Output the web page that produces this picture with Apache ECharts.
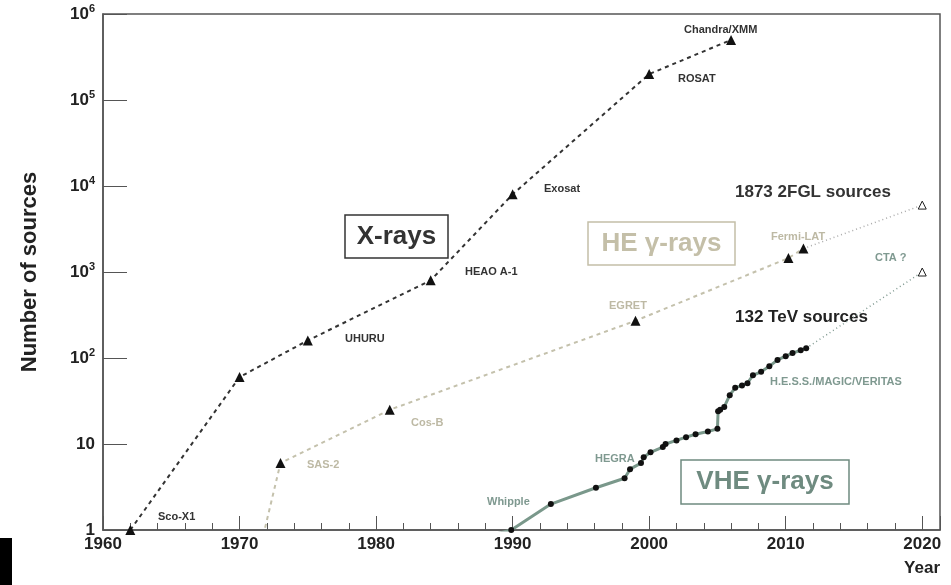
<!DOCTYPE html>
<html>
<head>
<meta charset="utf-8">
<script src="https://cdn.jsdelivr.net/npm/echarts@6/dist/echarts.min.js"></script>
<style>html,body{margin:0;background:#fff}#chart{width:951px;height:585px}</style>
</head>
<body>
<div id="chart"></div>
<script>
// X-ray catalogues
const xrayYears = [1962, 1970, 1975, 1984, 1990, 2000, 2006];
const xrayCounts = [1, 60, 160, 800, 8000, 200000, 500000];
// HE gamma-ray catalogues (first point is where the line enters from below)
const heYears = [1971.6, 1973, 1981, 1999, 2010.2, 2011.3];
const heCounts = [0.7, 6, 25, 271, 1451, 1873];
const heFutureYears = [2011.3, 2020];
const heFutureCounts = [1873, 6000];
// VHE gamma-ray (TeV) source count
const vheYears = [1988.2, 1989.9, 1992.8, 1996.1, 1998.2, 1998.6, 1999.4, 1999.6, 2000.1, 2001, 2001.2,
  2002, 2002.7, 2003.4, 2004.3, 2005, 2005.05, 2005.2, 2005.5, 2005.9, 2006.3, 2006.8, 2007.2, 2007.6,
  2008.2, 2008.8, 2009.4, 2010, 2010.5, 2011.1, 2011.5];
const vheCounts = [0.85, 1, 2, 3.1, 4, 5.1, 6, 7, 8, 9.2, 10,
  11, 12, 13, 14, 15, 24, 25, 27, 37, 45, 48, 51, 63,
  69, 80, 95, 105, 114, 123, 130];
const ctaYears = [2011.5, 2020];
const ctaCounts = [130, 1000];
const yTickLabels = {1: '1', 10: '10', 100: '10{s|2}', 1000: '10{s|3}', 10000: '10{s|4}', 100000: '10{s|5}', 1000000: '10{s|6}'};

const pairs = (xs, ys) => xs.map((x, i) => [x, ys[i]]);
const chart = echarts.init(document.getElementById('chart'));
const font = 'Liberation Sans, Arial, sans-serif';
const txt = (x, y, s, color, size) => ({
  type: 'text', x: x, y: y,
  style: {text: s, fill: color, font: 'bold ' + size + 'px ' + font}
});
const box = (x, y, w, h, s, color, size) => [
  {type: 'rect', shape: {x: x, y: y, width: w, height: h}, style: {fill: '#fff', stroke: color, lineWidth: 1.5}, z: 10},
  {type: 'text', x: x + w / 2, y: y + h / 2, z: 11,
    style: {text: s, fill: color, font: 'bold ' + size + 'px ' + font, align: 'center', verticalAlign: 'middle'}}
];

chart.setOption({
  animation: false,
  grid: {left: 103, right: 11, top: 14, bottom: 55, show: true, borderColor: '#555', borderWidth: 1.5},
  xAxis: {
    type: 'value', min: 1960, max: 2021.3, interval: 10,
    axisLine: {lineStyle: {color: '#555', width: 1.5}},
    axisTick: {inside: true, length: 14, lineStyle: {color: '#555'}},
    minorTick: {show: true, splitNumber: 5, length: 7, lineStyle: {color: '#555'}},
    splitLine: {show: false},
    axisLabel: {color: '#222', fontSize: 17, fontWeight: 'bold', fontFamily: font, margin: 6, showMaxLabel: false,
      formatter: v => String(v)},
    name: 'Year', nameLocation: 'end', nameGap: 0,
    nameTextStyle: {color: '#222', fontSize: 17, fontWeight: 'bold', fontFamily: font, align: 'right', verticalAlign: 'top', padding: [30, 0, 0, 0]}
  },
  yAxis: {
    type: 'log', min: 1, max: 1000000, logBase: 10,
    axisLine: {lineStyle: {color: '#555', width: 1.5}},
    axisTick: {inside: true, length: 24, lineStyle: {color: '#555'}},
    splitLine: {show: false},
    axisLabel: {
      color: '#222', fontSize: 17, fontWeight: 'bold', fontFamily: font, margin: 8,
      formatter: v => yTickLabels[Math.round(v)] || '',
      rich: {s: {fontSize: 11, fontWeight: 'bold', verticalAlign: 'top', padding: [0, 0, 10, 0]}}
    },
    name: 'Number of sources', nameLocation: 'middle', nameGap: 62, nameRotate: 90,
    nameTextStyle: {color: '#222', fontSize: 22, fontWeight: 'bold', fontFamily: font}
  },
  series: [
    {type: 'line', data: pairs(xrayYears, xrayCounts), symbol: 'triangle', symbolSize: 10,
      itemStyle: {color: '#111'}, lineStyle: {color: '#333', type: [4, 4], width: 2}},
    {type: 'line', data: pairs(heYears, heCounts), symbol: 'triangle', clip: true,
      itemStyle: {color: '#111'}, lineStyle: {color: '#c4c1ac', type: [4, 4], width: 2},
      symbolSize: (v, p) => p.dataIndex === 0 ? 0 : 10},
    {type: 'line', data: pairs(heFutureYears, heFutureCounts), symbol: 'triangle', clip: true,
      symbolSize: (v, p) => p.dataIndex === 0 ? 0 : 8,
      itemStyle: {color: '#fff', borderColor: '#222', borderWidth: 1}, lineStyle: {color: '#aaa', type: [1, 3], width: 1.5}},
    {type: 'line', data: pairs(ctaYears, ctaCounts), symbol: 'triangle', clip: true,
      symbolSize: (v, p) => p.dataIndex === 0 ? 0 : 8,
      itemStyle: {color: '#fff', borderColor: '#222', borderWidth: 1}, lineStyle: {color: '#7f9990', type: [1, 3], width: 1.5}},
    {type: 'line', data: pairs(vheYears, vheCounts), symbol: 'circle', clip: true, z: 5,
      symbolSize: (v, p) => p.dataIndex === 0 ? 0 : 6,
      itemStyle: {color: '#111'}, lineStyle: {color: '#7a988b', width: 3}}
  ],
  graphic: [
    {type: 'rect', shape: {x: 0, y: 538, width: 12, height: 47}, style: {fill: '#000'}},
    ...box(345, 215, 103, 43, 'X-rays', '#333', 26),
    ...box(588, 222, 147, 43, 'HE \u03b3-rays', '#c4bfa8', 26),
    ...box(681, 460, 168, 44, 'VHE \u03b3-rays', '#6f8b80', 26),
    txt(735, 184, '1873 2FGL sources', '#333', 17),
    txt(735, 309, '132 TeV sources', '#222', 17),
    txt(158, 511, 'Sco-X1', '#333', 11),
    txt(345, 333, 'UHURU', '#333', 11),
    txt(465, 266, 'HEAO A-1', '#333', 11),
    txt(544, 183, 'Exosat', '#333', 11),
    txt(678, 73, 'ROSAT', '#333', 11),
    txt(684, 24, 'Chandra/XMM', '#333', 11),
    txt(307, 459, 'SAS-2', '#bdb9a4', 11),
    txt(411, 417, 'Cos-B', '#bdb9a4', 11),
    txt(609, 300, 'EGRET', '#bdb9a4', 11),
    txt(771, 231, 'Fermi-LAT', '#bdb9a4', 11),
    txt(875, 252, 'CTA ?', '#7f9990', 11),
    txt(595, 453, 'HEGRA', '#7f9990', 11),
    txt(487, 496, 'Whipple', '#7f9990', 11),
    txt(770, 376, 'H.E.S.S./MAGIC/VERITAS', '#7f9990', 11)
  ]
});
</script>
</body>
</html>
